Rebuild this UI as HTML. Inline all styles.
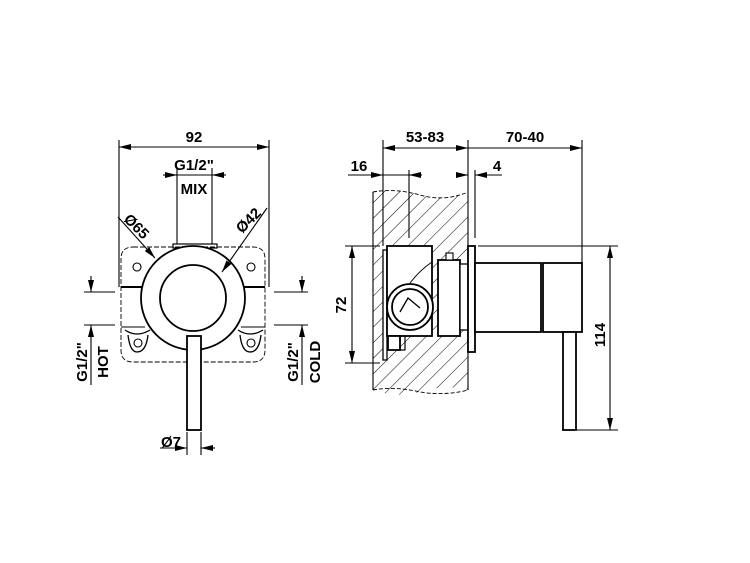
<!DOCTYPE html>
<html><head><meta charset="utf-8"><style>
html,body{margin:0;padding:0;background:#fff;}
svg{display:block;}
text{font-family:"Liberation Sans",sans-serif;font-weight:bold;font-size:15px;fill:#000;}
</style></head><body>
<svg width="750" height="563" viewBox="0 0 750 563" xmlns="http://www.w3.org/2000/svg">
<defs>
<marker id="a" viewBox="0 0 12 6" refX="12" refY="3" markerWidth="12" markerHeight="6" orient="auto-start-reverse" markerUnits="userSpaceOnUse"><path d="M0,0 L12,3 L0,6 z" fill="#000"/></marker>
<pattern id="h" width="11" height="11" patternUnits="userSpaceOnUse" patternTransform="rotate(45)"><line x1="0" y1="0" x2="0" y2="11" stroke="#000" stroke-width="1"/></pattern>
</defs>
<g stroke="#000" stroke-width="1.1" fill="none">
<!-- FRONT VIEW -->
<line x1="119" y1="140" x2="119" y2="287"/>
<line x1="269" y1="140" x2="269" y2="287"/>
<line x1="119" y1="147" x2="269" y2="147" marker-start="url(#a)" marker-end="url(#a)"/>
<line x1="177" y1="168" x2="177" y2="244"/>
<line x1="212" y1="168" x2="212" y2="244"/>
<line x1="163" y1="175" x2="177" y2="175" marker-end="url(#a)"/>
<line x1="226" y1="175" x2="212" y2="175" marker-end="url(#a)"/>
<line x1="177" y1="175" x2="212" y2="175"/>
<path d="M133,247 H253 Q265,247 265,259 V350 Q265,362 253,362 H133 Q121,362 121,350 V259 Q121,247 133,247 Z" stroke-dasharray="5,2" stroke-width="0.9"/>
<rect x="173" y="244" width="44" height="4" stroke-width="1.2"/>
<circle cx="137" cy="267" r="4"/><circle cx="251" cy="267" r="4"/>
<line x1="121" y1="287" x2="145" y2="287" stroke-width="2"/>
<line x1="121" y1="327" x2="145" y2="327"/>
<line x1="241" y1="287" x2="265" y2="287" stroke-width="2"/>
<line x1="241" y1="327" x2="265" y2="327"/>
<path d="M125,330 Q137,338 150,330 M128,335 Q130,352 137,352 Q146,352 148,335" stroke-width="1.3"/>
<circle cx="138" cy="343" r="4"/>
<path d="M238,330 Q250,338 263,330 M240,335 Q242,352 250,352 Q259,352 261,335" stroke-width="1.3"/>
<circle cx="251" cy="343" r="4"/>
<circle cx="193" cy="298" r="52" fill="#fff" stroke-width="1.8"/>
<circle cx="193" cy="298" r="33" stroke-width="1.8"/>
<rect x="187" y="336" width="14" height="94" fill="#fff" stroke-width="1.8"/>
<line x1="187" y1="432" x2="187" y2="455"/>
<line x1="201" y1="432" x2="201" y2="455"/>
<line x1="160" y1="448" x2="187" y2="448" marker-end="url(#a)"/>
<line x1="215" y1="448" x2="201" y2="448" marker-end="url(#a)"/>
<line x1="118" y1="217" x2="155" y2="258" marker-end="url(#a)"/>
<line x1="267" y1="208" x2="222" y2="272" marker-end="url(#a)"/>
<!-- HOT dim -->
<line x1="84" y1="292" x2="115" y2="292"/>
<line x1="84" y1="325" x2="115" y2="325"/>
<line x1="91" y1="276" x2="91" y2="292" marker-end="url(#a)"/>
<line x1="91" y1="385" x2="91" y2="325" marker-end="url(#a)"/>
<line x1="274" y1="292" x2="308" y2="292"/>
<line x1="274" y1="325" x2="308" y2="325"/>
<line x1="302" y1="276" x2="302" y2="292" marker-end="url(#a)"/>
<line x1="302" y1="385" x2="302" y2="325" marker-end="url(#a)"/>
<!-- SIDE VIEW -->
<path d="M373,192 Q395,188 420,195 Q445,202 468,192 V390 Q445,384 420,392 Q395,398 373,390 Z" fill="url(#h)" stroke="none"/>
<path d="M373,192 Q395,188 420,195 Q445,202 468,192 M373,390 Q395,386 420,392 Q445,396 468,390" stroke-dasharray="4,2" stroke-width="0.9"/>
<line x1="373" y1="192" x2="373" y2="390"/>
<line x1="468" y1="192" x2="468" y2="390"/>
<line x1="383" y1="140" x2="383" y2="246"/>
<line x1="468" y1="140" x2="468" y2="192"/>
<line x1="582" y1="140" x2="582" y2="263"/>
<line x1="383" y1="148" x2="468" y2="148" marker-start="url(#a)" marker-end="url(#a)"/>
<line x1="468" y1="148" x2="582" y2="148" marker-end="url(#a)"/>
<line x1="409" y1="170" x2="409" y2="238"/>
<line x1="475" y1="170" x2="475" y2="238"/>
<line x1="348" y1="175" x2="383" y2="175" marker-end="url(#a)"/>
<line x1="383" y1="175" x2="422" y2="175"/>
<line x1="422" y1="175" x2="409" y2="175" marker-end="url(#a)"/>
<line x1="456" y1="175" x2="468" y2="175" marker-end="url(#a)"/>
<line x1="502" y1="175" x2="475" y2="175" marker-end="url(#a)"/>
<line x1="345" y1="246" x2="380" y2="246"/>
<line x1="345" y1="363" x2="380" y2="363"/>
<line x1="352" y1="246" x2="352" y2="363" marker-start="url(#a)" marker-end="url(#a)"/>
<line x1="478" y1="246" x2="618" y2="246"/>
<line x1="575" y1="430" x2="618" y2="430"/>
<line x1="610" y1="246" x2="610" y2="430" marker-start="url(#a)" marker-end="url(#a)"/>
<!-- box -->
<rect x="383" y="250" width="4" height="110" fill="#fff" stroke-width="1.3"/>
<rect x="387" y="246" width="45" height="90" fill="#fff" stroke-width="1.8"/>
<path d="M432,262 Q420,270 410,283" stroke-width="1"/>
<circle cx="410" cy="307" r="23" fill="#fff" stroke-width="1.8"/>
<circle cx="410" cy="307" r="18" stroke-width="1.8"/>
<path d="M400,312 L408,298 L420,308" stroke-width="1.3"/>
<rect x="388" y="336" width="12" height="14" fill="#fff" stroke-width="1.8"/>
<rect x="400" y="336" width="5" height="14" stroke-width="1.2"/>
<rect x="438" y="260" width="22" height="76" fill="#fff" stroke-width="1.8"/>
<rect x="446" y="253" width="7" height="7" fill="#fff"/>
<rect x="460" y="264" width="8" height="66" fill="#fff" stroke-width="1.3"/>
<rect x="468" y="246" width="7" height="106" fill="#fff" stroke-width="1.8"/>
<rect x="475" y="263" width="66" height="69" fill="#fff" stroke-width="1.8"/>
<rect x="543" y="263" width="39" height="69" fill="#fff" stroke-width="1.8"/>
<rect x="563" y="332" width="13" height="98" fill="#fff" stroke-width="1.8"/>
</g>
<text x="194" y="142" text-anchor="middle">92</text>
<text x="194" y="170" text-anchor="middle">G1/2"</text>
<text x="194" y="194" text-anchor="middle">MIX</text>
<text transform="translate(133,230) rotate(45)" text-anchor="middle" font-weight="normal">Ø<tspan font-weight="bold">65</tspan></text>
<text transform="translate(252,224) rotate(-45)" text-anchor="middle" font-weight="normal">Ø<tspan font-weight="bold">42</tspan></text>
<text x="171" y="447" text-anchor="middle" font-weight="normal">Ø<tspan font-weight="bold">7</tspan></text>
<text transform="translate(87,362) rotate(-90)" text-anchor="middle">G1/2"</text>
<text transform="translate(108,362) rotate(-90)" text-anchor="middle">HOT</text>
<line x1="91" y1="340" x2="91" y2="385" stroke="#000"/>
<text transform="translate(298,362) rotate(-90)" text-anchor="middle">G1/2"</text>
<text transform="translate(320,362) rotate(-90)" text-anchor="middle">COLD</text>
<text x="425" y="142" text-anchor="middle">53-83</text>
<text x="525" y="142" text-anchor="middle">70-40</text>
<text x="359" y="171" text-anchor="middle">16</text>
<text x="497" y="171" text-anchor="middle">4</text>
<text transform="translate(346,305) rotate(-90)" text-anchor="middle">72</text>
<text transform="translate(605,335) rotate(-90)" text-anchor="middle">114</text>
</svg>
</body></html>
